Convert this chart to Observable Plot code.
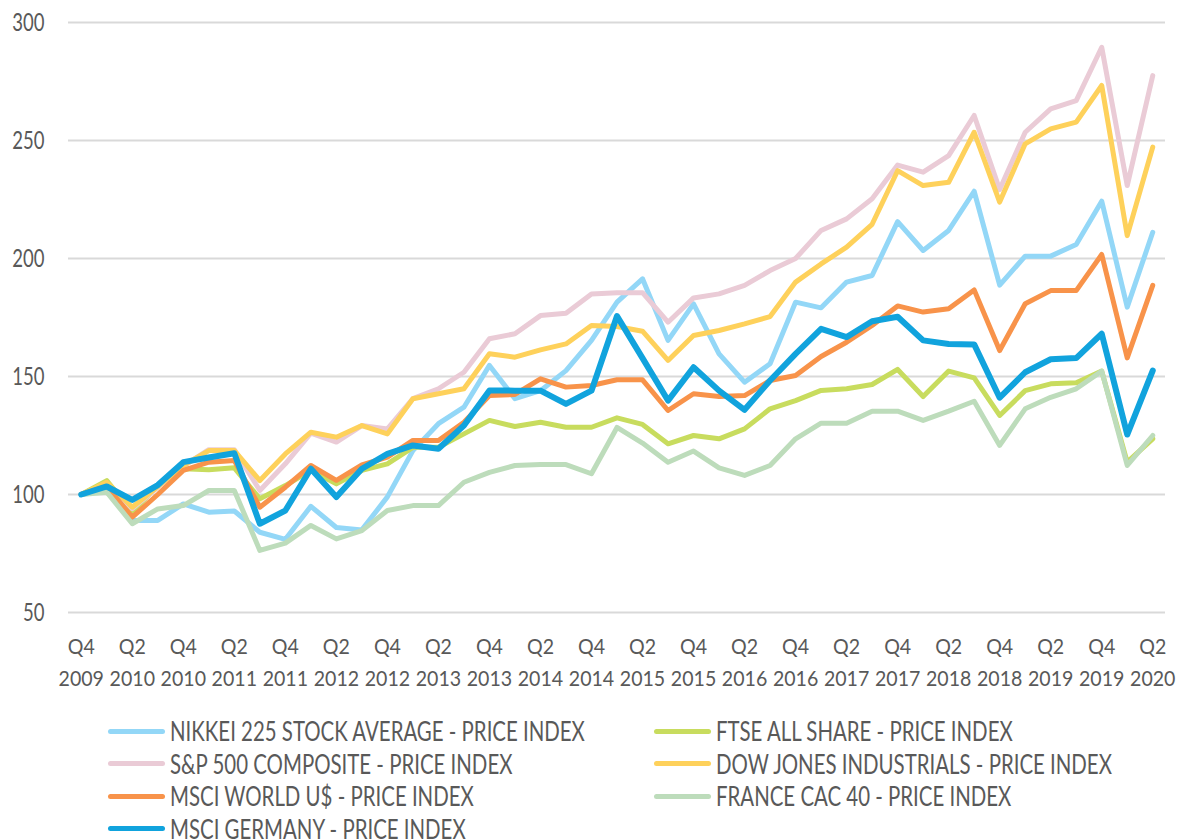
<!DOCTYPE html>
<html>
<head>
<meta charset="utf-8">
<script src="https://cdn.jsdelivr.net/npm/d3@7"></script>
<script src="https://cdn.jsdelivr.net/npm/@observablehq/plot@0.6"></script>
<style>
  html, body { margin: 0; padding: 0; background: #ffffff; }
  #wrap { position: relative; width: 1179px; height: 840px; overflow: hidden; }
  #legend { position: absolute; left: 0; top: 700px; width: 1179px; height: 140px;
    font-family: Lato, 'DejaVu Sans Condensed', sans-serif; font-size: 26px; color: #595959; }
  .item { position: absolute; display: flex; align-items: center; height: 32px; white-space: nowrap; }
  .sw { width: 57px; height: 5px; border-radius: 3px; margin-right: 5px; flex: none; }
  .item span { display: inline-block; transform-origin: left center; line-height: 32px; }
</style>
</head>
<body>
<div id="wrap"><div id="chart"></div><div id="legend"></div></div>
<script>
const periods = ["Q4 2009",
  "Q1 2010","Q2 2010","Q3 2010","Q4 2010",
  "Q1 2011","Q2 2011","Q3 2011","Q4 2011",
  "Q1 2012","Q2 2012","Q3 2012","Q4 2012",
  "Q1 2013","Q2 2013","Q3 2013","Q4 2013",
  "Q1 2014","Q2 2014","Q3 2014","Q4 2014",
  "Q1 2015","Q2 2015","Q3 2015","Q4 2015",
  "Q1 2016","Q2 2016","Q3 2016","Q4 2016",
  "Q1 2017","Q2 2017","Q3 2017","Q4 2017",
  "Q1 2018","Q2 2018","Q3 2018","Q4 2018",
  "Q1 2019","Q2 2019","Q3 2019","Q4 2019",
  "Q1 2020","Q2 2020"];

const yTicks = [50, 100, 150, 200, 250, 300];

const seriesNames = [
  "NIKKEI 225 STOCK AVERAGE - PRICE INDEX",
  "FTSE ALL SHARE - PRICE INDEX",
  "S&P 500 COMPOSITE - PRICE INDEX",
  "DOW JONES INDUSTRIALS - PRICE INDEX",
  "MSCI WORLD U$ - PRICE INDEX",
  "FRANCE CAC 40 - PRICE INDEX",
  "MSCI GERMANY - PRICE INDEX"
];
const seriesColors = ["#93d7f7", "#c8dc5e", "#eacbd6", "#fed15b", "#f8934a", "#bddcbb", "#11a3dd"];

const nikkei = [100,101.7,89,89,96,92.5,93,84,81,95,86,85,99,118.6,130,137,154.7,140.6,144,152.5,165.3,181.5,191.4,165.3,180.8,159.6,147.6,155.4,181.5,179.1,190,192.8,215.6,203.4,211.9,228.5,188.7,201,201,205.9,224.3,179.4,211.1];
const ftse = [100,105.9,92.5,103.8,110.9,110.5,111.3,98.2,103.8,110.2,104.5,110.2,113,120,120,125.7,131.4,128.8,130.6,128.5,128.5,132.5,129.7,121.5,125,123.6,127.8,136.3,139.8,144.1,144.8,146.6,153,141.5,152.3,149.4,133.5,144,146.9,147.3,152.3,113.7,123.6];
const sp500 = [100,104.5,94,103,112,119,119,101.7,113,126,122.2,129.2,127.8,140.6,144.8,151.8,166,168.1,175.8,176.8,185,185.5,185.5,173,183.3,185,188.6,194.9,200,211.9,216.8,225.3,239.6,236.6,243.6,260.6,229.2,253.5,263.4,266.9,289.5,230.9,277.5];
const dow = [100,105.2,94.6,103.4,112.3,118.6,118.6,105.9,117.2,126.4,124.3,129.2,125.7,140.6,142.7,144.8,159.6,158.2,161.3,163.8,171.6,171.2,169.2,156.8,167.4,169.5,172.3,175.4,190,197.7,204.8,214.5,237.2,230.9,232.3,253.5,223.9,248.6,254.9,257.8,273.3,209.7,247.2];
const msciWorld = [100,103.4,90.4,100,110.2,113.7,114.4,94.6,103.1,112.3,106,112.5,115.8,122.9,122.9,130.6,141.9,142.4,149,145.5,146.2,148.6,148.6,135.6,142.7,141.5,141.9,148.3,150.4,158.5,164.5,171.6,179.9,177.3,178.7,186.7,161,180.8,186.4,186.4,201.7,157.9,188.6];
const cac40 = [100,101,87.6,93.9,95.3,101.7,101.7,76.3,79.4,86.9,81.2,84.7,93.2,95.3,95.3,105.2,109.4,112.3,112.7,112.7,108.8,128.4,121.8,113.7,118.4,111.3,108.1,112.3,123.6,130.2,130.2,135.3,135.3,131.4,135.3,139.5,120.8,136.3,141.2,144.8,152.3,112.3,125];
const msciGermany = [100,103.4,97.7,104,113.7,115.7,117.5,87.6,93.2,110.9,98.9,110.9,117.2,120.8,119.4,129.2,144.1,144,144,138.4,144,175.6,157.8,139.8,153.9,144,135.9,148.3,159.6,170.2,166.7,173.4,175.3,165.3,163.8,163.6,141,151.8,157.3,157.8,168.1,125.4,152.5];

const seriesValues = [nikkei, ftse, sp500, dow, msciWorld, cac40, msciGermany];
const seriesWidths = [5, 5, 5, 5, 5, 5, 6];

const xTickIdx = periods.map((p, i) => i).filter(i => i % 2 === 0);

const lineMarks = seriesValues.map((vals, s) =>
  Plot.line(vals.map((v, i) => ({i, v})), {
    x: "i", y: "v", stroke: seriesColors[s], strokeWidth: seriesWidths[s],
    strokeLinejoin: "round", strokeLinecap: "round"
  })
);

const chart = Plot.plot({
  width: 1179,
  height: 700,
  marginLeft: 68,
  marginRight: 14,
  marginTop: 22,
  marginBottom: 88,
  style: {
    fontFamily: "Lato, 'DejaVu Sans Condensed', sans-serif",
    fontSize: "22px",
    color: "#595959",
    background: "#ffffff",
    overflow: "visible"
  },
  x: {domain: [-0.5, periods.length - 0.5], axis: null},
  y: {domain: [50, 300], axis: null},
  marks: [
    Plot.gridY(yTicks, {stroke: "#d9d9d9", strokeOpacity: 1, strokeWidth: 2}),
    Plot.axisY(yTicks, {tickSize: 0, tickPadding: 24, fontSize: 25, label: null}),
    Plot.axisX(xTickIdx, {
      tickSize: 0, tickPadding: 26, fontSize: 22, label: null,
      tickFormat: i => periods[i].split(" ")[0]
    }),
    Plot.axisX(xTickIdx, {
      tickSize: 0, tickPadding: 58, fontSize: 22, label: null,
      tickFormat: i => periods[i].split(" ")[1]
    }),
    ...lineMarks
  ]
});
document.getElementById("chart").appendChild(chart);

// condense the axis text horizontally, like the reference's narrow face
const yLabelTexts = new Set(chart.querySelectorAll('g[aria-label="y-axis tick label"] text'));
chart.querySelectorAll("text").forEach(t => {
  const len = t.getComputedTextLength();
  const f = yLabelTexts.has(t) ? 0.74 : 0.89;
  if (len > 0) {
    t.setAttribute("textLength", (len * f).toFixed(2));
    t.setAttribute("lengthAdjust", "spacingAndGlyphs");
  }
});

// legend
const legend = document.getElementById("legend");
const colLeft = [0, 2, 4, 6];
const colRight = [1, 3, 5];
const spans = [];
function addItem(s, x, row) {
  const d = document.createElement("div");
  d.className = "item";
  d.style.left = x + "px";
  d.style.top = (15 + row * 32.5) + "px";
  const sw = document.createElement("div");
  sw.className = "sw";
  sw.style.background = seriesColors[s];
  const t = document.createElement("span");
  t.textContent = seriesNames[s];
  d.appendChild(sw); d.appendChild(t);
  legend.appendChild(d);
  spans.push({s, t});
}
colLeft.forEach((s, r) => addItem(s, 108, r));
colRight.forEach((s, r) => addItem(s, 654, r));
const ref = spans.find(o => o.s === 0).t;
const k = 415 / ref.getBoundingClientRect().width;
spans.forEach(o => { o.t.style.transform = `scaleX(${k.toFixed(3)})`; });
</script>
</body>
</html>
